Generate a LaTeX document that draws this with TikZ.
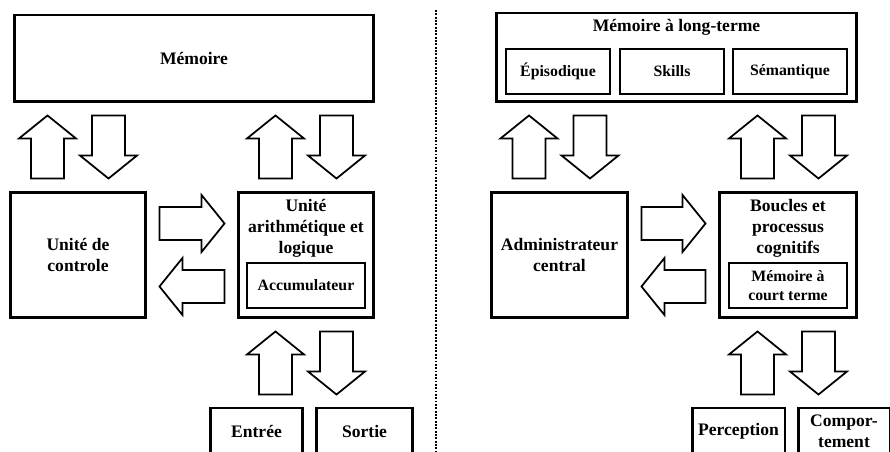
\documentclass[tikz,border=0pt]{standalone}
\usepackage{fontspec}
\setmainfont{Liberation Serif}
\usetikzlibrary{calc}

\newcommand\fatarrow[2]{%
  \coordinate (fa-a) at ($(#1)!0.24cm!(#2)$);
  \coordinate (fa-b) at ($(#2)!0.24cm!(#1)$);
  \coordinate (fa-s) at ($(fa-b)!0.46cm!(fa-a)$);
  \draw[fat] ($(fa-a)!0.33cm!90:(fa-b)$) -- ($(fa-s)!0.33cm!90:(fa-b)$) -- ($(fa-s)!0.57cm!90:(fa-b)$) -- (fa-b)
    -- ($(fa-s)!0.57cm!-90:(fa-b)$) -- ($(fa-s)!0.33cm!-90:(fa-b)$) -- ($(fa-a)!0.33cm!-90:(fa-b)$) -- cycle;}

\begin{document}
\begin{tikzpicture}[x=0.02cm,y=-0.02cm,
  box/.style={draw,line width=1.7pt,font=\bfseries,align=center,inner sep=0pt},
  sub/.style={draw,line width=1.5pt,font=\bfseries\fontsize{9}{10.5}\selectfont,align=center,inner sep=0pt},
  head/.style={font=\bfseries,align=center,inner sep=0pt,anchor=north},
  fat/.style={draw,line width=1pt,fill=white,line join=miter}]
  \useasboundingbox (0,0) rectangle (890,452);
  \clip (0,0) rectangle (890,452);

  \node[box,minimum width=7.2cm,minimum height=1.74cm] at (194,58.5) (mem) {Mémoire};
  \node[box,minimum width=2.72cm,minimum height=2.52cm] at (78,255) (ctrl) {Unité de\\controle};
  \node[box,minimum width=2.72cm,minimum height=2.52cm,label={[head,yshift=-0.17cm]north:{Unité\\arithmétique et\\logique}}] at (306,255) (ual) {};
  \node[sub,minimum width=2.36cm,minimum height=0.9cm] at (306,285.5) (acc) {Accumulateur};
  \node[box,minimum width=1.86cm,minimum height=0.92cm] at (256.5,431) (entree) {Entrée};
  \node[box,minimum width=1.94cm,minimum height=0.92cm] at (364.5,431) (sortie) {Sortie};

  \draw[line width=1.7pt,dash pattern=on 1.1pt off 0.8pt] (436,10) -- (436,452);

  \node[box,minimum width=7.22cm,minimum height=1.78cm,label={[head,yshift=-0.14cm]north:{Mémoire à long-terme}}] at (676.5,57.5) (ltm) {};
  \node[sub,minimum width=2.08cm,minimum height=0.9cm] at (558,71.5) (epi) {Épisodique};
  \node[sub,minimum width=2.08cm,minimum height=0.9cm] at (672,71.5) (skl) {Skills};
  \node[sub,minimum width=2.28cm,minimum height=0.9cm] at (790,71.5) (sem) {Sémantique};
  \node[box,minimum width=2.74cm,minimum height=2.52cm] at (559.5,255) (adm) {Administrateur\\central};
  \node[box,minimum width=2.76cm,minimum height=2.52cm,label={[head,yshift=-0.17cm]north:{Boucles et\\processus\\cognitifs}}] at (788,255) (bpc) {};
  \node[sub,minimum width=2.36cm,minimum height=0.9cm] at (788,285.5) (mct) {Mémoire à\\court terme};
  \node[box,minimum width=1.86cm,minimum height=0.92cm] at (738.5,431) (perc) {Perception};
  \node[box,minimum width=1.84cm,minimum height=0.92cm] at (844,431) (comp) {Compor-\\tement};

  \foreach \hi/\lo/\c in {mem/ctrl/ctrl, mem/ual/ual, ual/entree/ual, ltm/adm/adm, ltm/bpc/bpc, bpc/perc/bpc} {
    \coordinate (p) at ($(\c.center)+(-30.5,0)$);
    \coordinate (q) at ($(\c.center)+(30.5,0)$);
    \fatarrow{p |- \lo.north}{p |- \hi.south}
    \fatarrow{q |- \hi.south}{q |- \lo.north}
  }
  \foreach \l/\r in {ctrl/ual, adm/bpc} {
    \coordinate (p) at ($(\l.east)+(0,-31.5)$);
    \coordinate (q) at ($(\l.east)+(0,31.5)$);
    \fatarrow{p}{p -| \r.west}
    \fatarrow{q -| \r.west}{q}
  }
\end{tikzpicture}
\end{document}
